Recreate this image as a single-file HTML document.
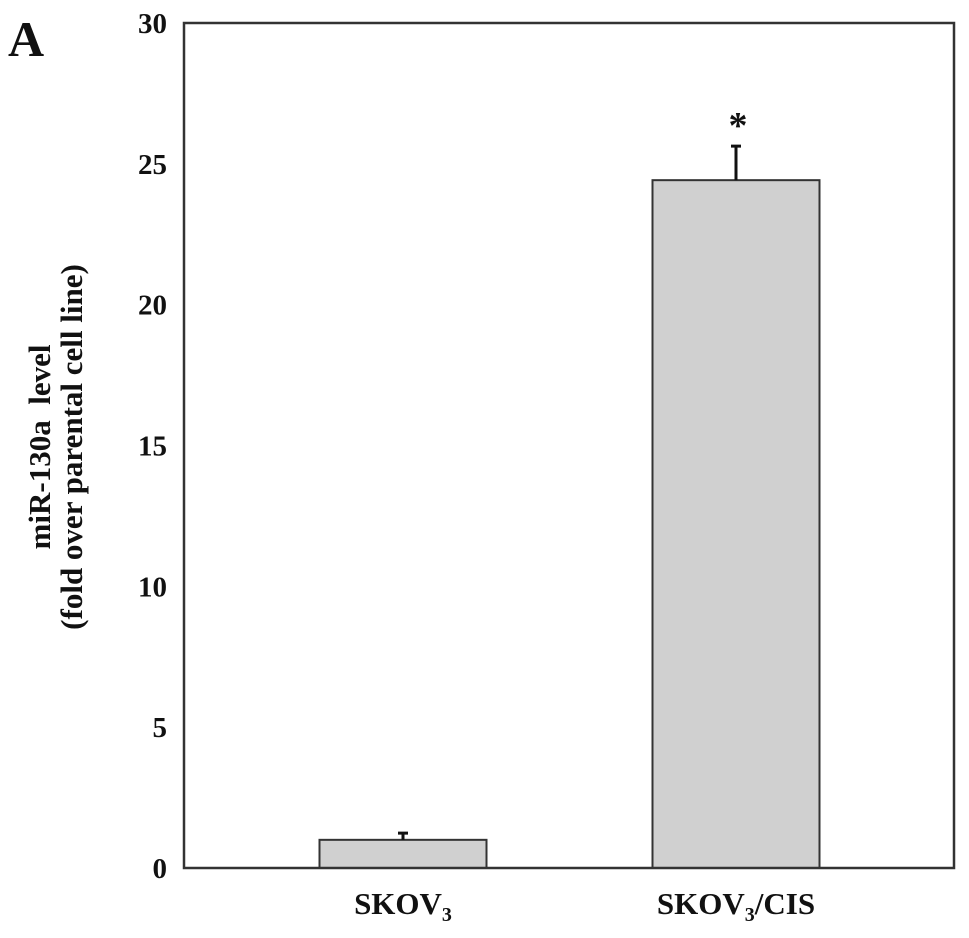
<!DOCTYPE html>
<html><head><meta charset="utf-8"><style>
body{margin:0;background:#fff;}
svg text{font-family:"Liberation Serif",serif;font-weight:bold;fill:#111;}
</style></head><body>
<svg id="chart" width="969" height="933" xmlns="http://www.w3.org/2000/svg">
<text x="8" y="56" font-size="50">A</text>
<g id="yaxis"></g>
<g id="bars"></g>
<rect x="184" y="23" width="770" height="845" fill="none" stroke="#333" stroke-width="2.5"/>
<text transform="translate(50,447) rotate(-90)" text-anchor="middle" font-size="31" xml:space="preserve">miR-130a  level</text>
<text transform="translate(82,447) rotate(-90)" text-anchor="middle" font-size="31">(fold over parental cell line)</text>
<text x="403" y="914" text-anchor="middle" font-size="31">SKOV<tspan font-size="20" dy="7">3</tspan></text>
<text x="736" y="914" text-anchor="middle" font-size="31">SKOV<tspan font-size="20" dy="7">3</tspan><tspan dy="-7">/CIS</tspan></text>
</svg>
<script>
const categories=["SKOV3","SKOV3/CIS"];
const values=[1.0,24.42];
const errors=[0.24,1.21];
const sig=["","*"];
const yTicks=[0,5,10,15,20,25,30];
const NS="http://www.w3.org/2000/svg";
function y(v){return 868-v*(845/30);}
function xc(i){return 403+i*333;}
const BW=167;
const ya=document.getElementById('yaxis');
yTicks.forEach(t=>{
  const tx=document.createElementNS(NS,'text');
  
  
  tx.setAttribute('x',167);tx.setAttribute('y',y(t)+10);
  tx.setAttribute('text-anchor','end');tx.setAttribute('font-size','29');
  tx.textContent=t;ya.appendChild(tx);
});
const bg=document.getElementById('bars');
categories.forEach((c,i)=>{
  const r=document.createElementNS(NS,'rect');
  
  
  r.setAttribute('x',xc(i)-BW/2);r.setAttribute('y',y(values[i]));
  r.setAttribute('width',BW);r.setAttribute('height',y(0)-y(values[i]));
  r.setAttribute('fill','#d0d0d0');r.setAttribute('stroke','#333');r.setAttribute('stroke-width','2');
  bg.appendChild(r);
  const l=document.createElementNS(NS,'path');
  
  
  const yt=y(values[i]+errors[i]);
  l.setAttribute('d',`M${xc(i)} ${y(values[i])}V${yt}M${xc(i)-5} ${yt}H${xc(i)+5}`);
  l.setAttribute('stroke','#111');l.setAttribute('stroke-width','3');
  bg.appendChild(l);
  if(sig[i]){
    const s=document.createElementNS(NS,'text');
    
    
    s.setAttribute('x',xc(i)+2);s.setAttribute('y',yt-8);
    s.setAttribute('text-anchor','middle');s.setAttribute('font-size','38');
    s.textContent=sig[i];bg.appendChild(s);
  }
});
</script>
</body></html>
